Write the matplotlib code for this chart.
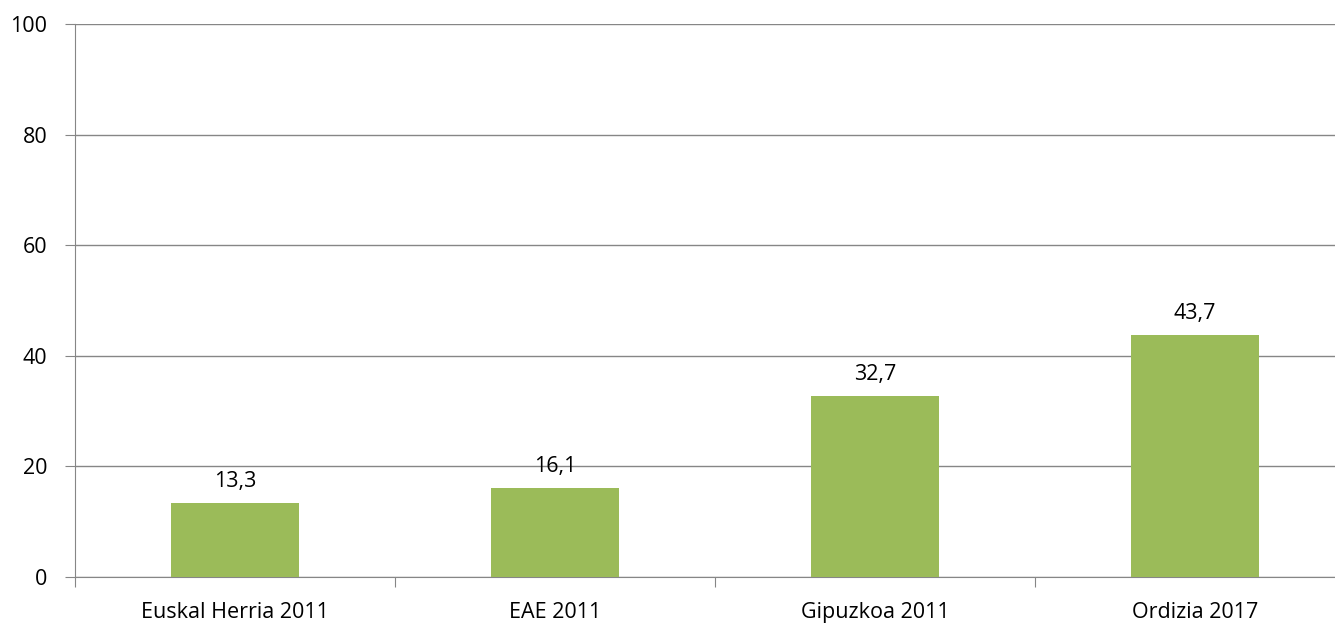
import matplotlib.pyplot as plt
import numpy as np

# datos del grafico
categorias = ['Euskal Herria 2011', 'EAE 2011', 'Gipuzkoa 2011', 'Ordizia 2017']
valores = [13.3, 16.1, 32.7, 43.7]
etiquetas = ['13,3', '16,1', '32,7', '43,7']
yticks = [0, 20, 40, 60, 80, 100]

plt.rcParams['font.family'] = ['Open Sans', 'DejaVu Sans']
tam = 15.5

fig = plt.figure(figsize=(13.35, 6.23), dpi=100)
# el area del grafico sale un poco recortada por la derecha
ax = fig.add_axes([75 / 1335, 1 - 577 / 623, 1280 / 1335, 553 / 623])

x = np.arange(len(categorias))
ax.bar(x, valores, width=0.4, color='#9BBB59', zorder=3)

for xi, v, t in zip(x, valores, etiquetas):
    ax.annotate(t, (xi, v), xytext=(0, 8), textcoords='offset points',
                ha='center', va='bottom', fontsize=tam)

ax.set_xlim(-0.5, len(categorias) - 0.5)
ax.set_ylim(0, 100)
ax.set_yticks(yticks)
ax.set_yticklabels([str(t) for t in yticks], fontsize=tam)
ax.yaxis.grid(True, color='#868686', linewidth=1, zorder=0)

# marcas del eje x en los limites de las categorias
ax.set_xticks(np.arange(len(categorias) + 1) - 0.5)
ax.set_xticklabels([])
ax.set_xticks(x, minor=True)
ax.set_xticklabels(categorias, minor=True, fontsize=tam)
ax.tick_params(axis='x', which='minor', length=0, pad=18)
ax.tick_params(axis='x', which='major', length=7, color='#868686')
ax.tick_params(axis='y', length=7, color='#868686', pad=13)

for s in ['top', 'right']:
    ax.spines[s].set_visible(False)
for s in ['left', 'bottom']:
    ax.spines[s].set_color('#868686')

fig.savefig('out.png', dpi=100)
